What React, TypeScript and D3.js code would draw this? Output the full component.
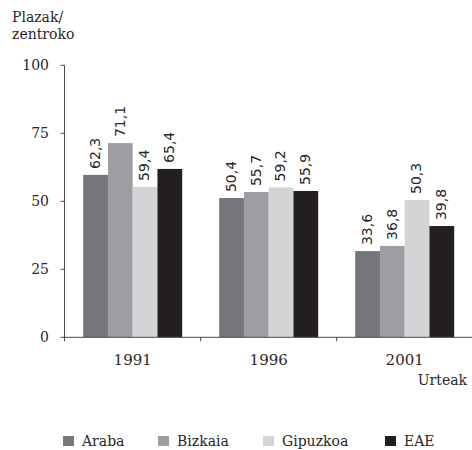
import React from "react";
import * as d3 from "d3";

const years = ["1991", "1996", "2001"];
const seriesNames = ["Araba", "Bizkaia", "Gipuzkoa", "EAE"];
const seriesColors = ["#77777b", "#9e9ea2", "#d3d4d6", "#231f20"];
// bar heights as drawn in the picture
const araba = [59.7, 51.2, 31.7];
const bizkaia = [71.4, 53.4, 33.6];
const gipuzkoa = [55.3, 55.1, 50.5];
const eae = [61.9, 53.8, 40.9];
// printed value labels
const arabaLabels = ["62,3", "50,4", "33,6"];
const bizkaiaLabels = ["71,1", "55,7", "36,8"];
const gipuzkoaLabels = ["59,4", "59,2", "50,3"];
const eaeLabels = ["65,4", "55,9", "39,8"];
const yTicks = [0, 25, 50, 75, 100];

const W = 472;
const H = 450;

export default function App() {
  const values = [araba, bizkaia, gipuzkoa, eae];
  const labels = [arabaLabels, bizkaiaLabels, gipuzkoaLabels, eaeLabels];

  const x0 = d3.scaleBand<string>().domain(years).range([64.7, 472.7]).padding(0);
  const x1 = d3
    .scaleBand<string>()
    .domain(seriesNames)
    .range([0, x0.bandwidth()])
    .paddingInner(0)
    .paddingOuter(0.747);
  const y = d3.scaleLinear().domain([0, 100]).range([337.3, 65.3]);

  const serif = "'DejaVu Serif', serif";
  const sans = "'DejaVu Sans', sans-serif";
  const axisColor = "#4a4a4a";
  const textColor = "#2a2627";
  const axisX = 64.5;
  const base = y(0);

  const legendX = [63, 158, 263, 385];

  return (
    <svg
      width={W}
      height={H}
      style={{ position: "absolute", left: 0, top: 0, background: "#fff" }}
    >
      <text x={12} y={22} fontFamily={serif} fontSize={14} fill={textColor}>
        Plazak/
      </text>
      <text x={12} y={38.5} fontFamily={serif} fontSize={14} fill={textColor}>
        zentroko
      </text>

      {/* bars */}
      {years.map((yr, gi) =>
        seriesNames.map((s, si) => {
          const bx = (x0(yr) as number) + (x1(s) as number);
          const v = values[si][gi];
          const top = y(v);
          const cx = bx + x1.bandwidth() / 2;
          return (
            <g key={yr + s}>
              <rect
                x={bx}
                y={top}
                width={x1.bandwidth()}
                height={base - top}
                fill={seriesColors[si]}
              />
              <text
                transform={`translate(${cx + 4.3},${top - 6}) rotate(-90)`}
                fontFamily={sans}
                fontSize={14}
                fill={textColor}
              >
                {labels[si][gi]}
              </text>
            </g>
          );
        })
      )}

      {/* y axis */}
      <line x1={axisX} x2={axisX} y1={y(100)} y2={base + 4} stroke={axisColor} strokeWidth={1} />
      {yTicks.map((t) => (
        <g key={t}>
          <line x1={axisX - 4} x2={axisX} y1={y(t)} y2={y(t)} stroke={axisColor} strokeWidth={1} />
          <text
            x={49}
            y={y(t) + 5}
            textAnchor="end"
            fontFamily={serif}
            fontSize={14}
            fill={textColor}
          >
            {t}
          </text>
        </g>
      ))}

      {/* x axis */}
      <line x1={axisX} x2={W} y1={base} y2={base} stroke={axisColor} strokeWidth={1} />
      {years.slice(1).map((yr) => (
        <line
          key={yr}
          x1={x0(yr) as number}
          x2={x0(yr) as number}
          y1={base}
          y2={base + 4}
          stroke={axisColor}
          strokeWidth={1}
        />
      ))}
      {years.map((yr) => (
        <text
          key={yr}
          x={(x0(yr) as number) + x0.bandwidth() / 2}
          y={365}
          textAnchor="middle"
          fontFamily={serif}
          fontSize={15}
          fill={textColor}
        >
          {yr}
        </text>
      ))}
      <text x={467} y={385} textAnchor="end" fontFamily={serif} fontSize={14} fill={textColor}>
        Urteak
      </text>

      {/* legend */}
      {seriesNames.map((s, i) => (
        <g key={s}>
          <rect x={legendX[i]} y={436} width={11} height={10} fill={seriesColors[i]} />
          <text x={legendX[i] + 19} y={446} fontFamily={serif} fontSize={14} fill={textColor}>
            {s}
          </text>
        </g>
      ))}
    </svg>
  );
}
